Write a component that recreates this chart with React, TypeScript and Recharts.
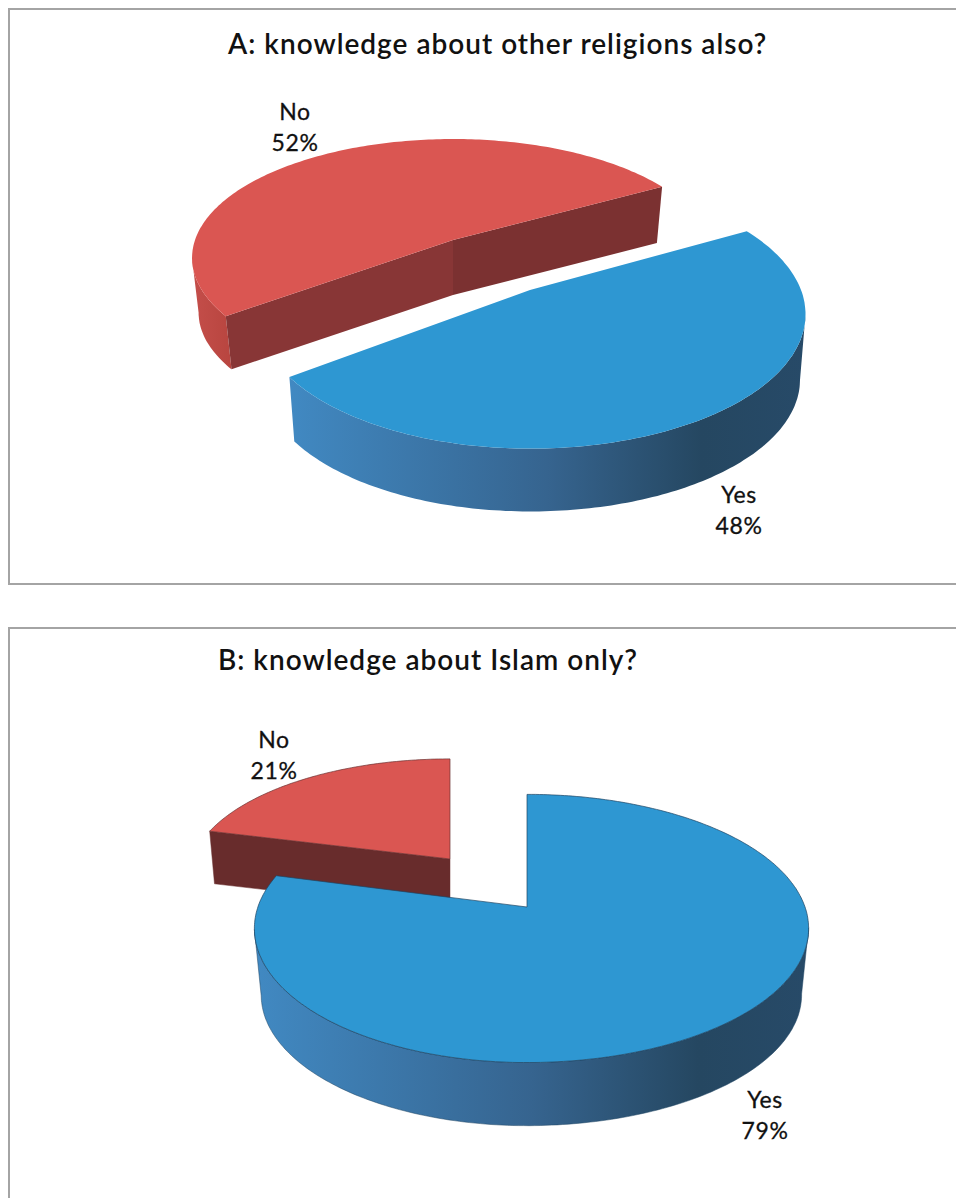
import React from 'react'
import { PieChart, Pie } from 'recharts'

// survey answers, in percent (No is listed first so Yes paints over it)
const answers = ['No', 'Yes']
const otherReligions = [52, 48]
const islamOnly = [21, 79]

const titleA = 'A: knowledge about other religions also?'
const titleB = 'B: knowledge about Islam only?'

const FONT = 'Lato, "Open Sans", sans-serif'

interface SliceLook {
  offset: [number, number] // explode offset from the pie centre
  radius: number
  leftScale?: number // the near-left side of the rim sits a little closer in
  tilt: number
  perspective: number
  depth: number
  shrink: number
  top: string
  outline?: string
  rim: { at: number; color: string }[]
  rimFrom: number
  rimTo: number
  faces: string[]
  labelAt: [number, number]
}

const blueRim = [
  { at: 0, color: '#4189c2' },
  { at: 0.5, color: '#36648f' },
  { at: 0.8, color: '#254761' },
  { at: 1, color: '#274a68' },
]
const redRim = [
  { at: 0, color: '#c44e4a' },
  { at: 1, color: '#b8453f' },
]

const looksA: Record<string, SliceLook> = {
  Yes: {
    offset: [0, 0],
    radius: 271,
    leftScale: 0.988,
    tilt: 0.48,
    perspective: 0.18,
    depth: 66,
    shrink: 0.98,
    top: '#2e97d2',
    rim: blueRim,
    rimFrom: 290,
    rimTo: 805,
    faces: ['#264a68'],
    labelAt: [739, 510],
  },
  No: {
    offset: [-77, -50],
    radius: 258,
    tilt: 0.45,
    perspective: 0.15,
    depth: 55,
    shrink: 0.975,
    top: '#da5652',
    rim: redRim,
    rimFrom: 193,
    rimTo: 232,
    faces: ['#883636', '#7b3131'],
    labelAt: [295, 127],
  },
}

const looksB: Record<string, SliceLook> = {
  Yes: {
    offset: [0, 0],
    radius: 278,
    leftScale: 0.968,
    tilt: 0.47,
    perspective: 0.16,
    depth: 67,
    shrink: 0.975,
    top: '#2e97d2',
    outline: '#1f4563',
    rim: blueRim,
    rimFrom: 255,
    rimTo: 809,
    faces: ['#264a68'],
    labelAt: [765, 515],
  },
  No: {
    offset: [-77, -48],
    radius: 258,
    tilt: 0.45,
    perspective: 0.16,
    depth: 52,
    shrink: 0.98,
    top: '#da5652',
    outline: '#6b3030',
    rim: redRim,
    rimFrom: 205,
    rimTo: 240,
    faces: ['#682c2c', '#682c2c'],
    labelAt: [274, 155],
  },
}

// flat circle angle -> point on the tilted rim
function project(look: SliceLook, ax: number, ay: number, deg: number) {
  const a = (deg * Math.PI) / 180
  const u = Math.cos(a)
  const v = -Math.sin(a)
  const d = 1 - look.perspective * v
  const side = u < 0 ? look.leftScale ?? 1 : 1
  return { x: ax + (look.radius * u * side) / d, y: ay + (look.radius * look.tilt * v) / d }
}

const toPath = (pts: { x: number; y: number }[]) =>
  pts.map((p, i) => `${i ? 'L' : 'M'}${p.x.toFixed(1)} ${p.y.toFixed(1)}`).join(' ') + ' Z'

function makeSlice(looks: Record<string, SliceLook>, prefix: string) {
  return function Slice(props: any) {
    const { cx, cy, startAngle, endAngle, name } = props
    const look = looks[name]
    const ax = cx + look.offset[0]
    const ay = cy + look.offset[1]
    const apex = { x: ax, y: ay }
    const steps = Math.ceil(Math.abs(endAngle - startAngle))
    const arc = Array.from({ length: steps + 1 }, (_, i) =>
      project(look, ax, ay, startAngle + ((endAngle - startAngle) * i) / steps),
    )
    const drop = (p: { x: number; y: number }) => ({
      x: ax + (p.x - ax) * look.shrink,
      y: ay + (p.y - ay) * look.shrink + look.depth,
    })

    // rim walls: only the stretches running leftwards on screen face the viewer
    const runs: { x: number; y: number }[][] = []
    let run: { x: number; y: number }[] = []
    for (let i = 1; i < arc.length; i++) {
      if (arc[i].x < arc[i - 1].x) {
        if (!run.length) run.push(arc[i - 1])
        run.push(arc[i])
      } else if (run.length) {
        runs.push(run)
        run = []
      }
    }
    if (run.length) runs.push(run)

    const first = arc[0]
    const last = arc[arc.length - 1]
    const cuts = [
      { from: apex, to: first, color: look.faces[0] },
      { from: last, to: apex, color: look.faces[look.faces.length - 1] },
    ].filter((c) => c.to.x < c.from.x)

    const gradientId = `${prefix}-${name}-rim`
    return (
      <g>
        <defs>
          <linearGradient
            id={gradientId}
            gradientUnits="userSpaceOnUse"
            x1={look.rimFrom}
            x2={look.rimTo}
            y1={0}
            y2={0}
          >
            {look.rim.map((s) => (
              <stop key={s.at} offset={s.at} stopColor={s.color} />
            ))}
          </linearGradient>
        </defs>
        {runs.map((r, i) => (
          <path
            key={i}
            d={toPath([...r, ...r.map(drop).reverse()])}
            fill={`url(#${gradientId})`}
            stroke={look.outline}
            strokeWidth={look.outline ? 0.5 : 0}
          />
        ))}
        {cuts.map((c, i) => (
          <path
            key={i}
            d={toPath([c.from, c.to, drop(c.to), drop(c.from)])}
            fill={c.color}
            stroke={look.outline}
            strokeWidth={look.outline ? 0.5 : 0}
          />
        ))}
        <path
          d={toPath([apex, ...arc])}
          fill={look.top}
          stroke={look.outline}
          strokeWidth={look.outline ? 0.7 : 0}
        />
      </g>
    )
  }
}

function makeLabel(looks: Record<string, SliceLook>) {
  return function SliceLabel(props: any) {
    const { name, value } = props
    const [x, y] = looks[name].labelAt
    return (
      <text
        x={x}
        textAnchor="middle"
        fontFamily={FONT}
        fontSize={23}
        letterSpacing={0.6}
        stroke="#111"
        strokeWidth={0.3}
        fill="#111"
      >
        <tspan x={x} y={y - 7}>
          {name}
        </tspan>
        <tspan x={x} y={y + 24}>
          {value}%
        </tspan>
      </text>
    )
  }
}

const tableA = answers.map((name, i) => ({ name, value: otherReligions[i] }))
const tableB = answers.map((name, i) => ({ name, value: islamOnly[i] }))

const SliceA = makeSlice(looksA, 'a')
const SliceB = makeSlice(looksB, 'b')
const LabelA = makeLabel(looksA)
const LabelB = makeLabel(looksB)

const frame: React.CSSProperties = {
  position: 'absolute',
  left: 8,
  width: 1000,
  border: '2px solid #a4a4a4',
  boxSizing: 'border-box',
}

const heading: React.CSSProperties = {
  position: 'absolute',
  fontFamily: FONT,
  fontSize: 28,
  fontWeight: 600,
  letterSpacing: 1,
  color: '#111',
  whiteSpace: 'nowrap',
  lineHeight: '30px',
}

export default function App() {
  return (
    <div
      style={{
        position: 'absolute',
        left: 0,
        top: 0,
        width: 956,
        height: 1198,
        overflow: 'hidden',
        background: '#fff',
      }}
    >
      <div style={{ ...frame, top: 8, height: 577 }} />
      <div style={{ ...frame, top: 627, height: 700 }} />

      <div style={{ ...heading, left: 228, top: 28 }}>{titleA}</div>
      <div style={{ ...heading, left: 218, top: 644 }}>{titleB}</div>

      <div style={{ position: 'absolute', left: 0, top: 0 }}>
        <PieChart width={956} height={600} margin={{ top: 0, right: 0, bottom: 0, left: 0 }}>
          <Pie
            data={tableA}
            dataKey="value"
            nameKey="name"
            cx={530}
            cy={290}
            outerRadius={272}
            startAngle={216.7}
            endAngle={-143.3}
            stroke="none"
            shape={SliceA}
            label={LabelA}
            labelLine={false}
            isAnimationActive={false}
          />
        </PieChart>
      </div>
      <div style={{ position: 'absolute', left: 0, top: 600 }}>
        <PieChart width={956} height={598} margin={{ top: 0, right: 0, bottom: 0, left: 0 }}>
          <Pie
            data={tableB}
            dataKey="value"
            nameKey="name"
            cx={527}
            cy={307}
            outerRadius={278}
            startAngle={165.6}
            endAngle={-194.4}
            stroke="none"
            shape={SliceB}
            label={LabelB}
            labelLine={false}
            isAnimationActive={false}
          />
        </PieChart>
      </div>
    </div>
  )
}
